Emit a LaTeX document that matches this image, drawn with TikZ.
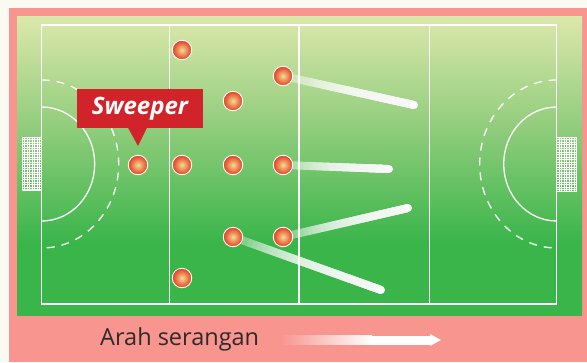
\documentclass[tikz,border=0pt]{standalone}
\usepackage{fontspec}
\setmainfont{Open Sans}
\usetikzlibrary{calc}
\definecolor{offwhite}{HTML}{FAFAF3}
\definecolor{pinkbg}{HTML}{F7958E}
\definecolor{fieldtop}{HTML}{DCE8AB}
\definecolor{fieldmid}{HTML}{8FCC7B}
\definecolor{fieldgreen}{HTML}{3AB54A}
\definecolor{redbox}{HTML}{D2232A}
\definecolor{pout}{HTML}{E6402A}
\definecolor{pmid}{HTML}{EC8F55}
\definecolor{pin}{HTML}{F0DDA2}
\definecolor{darktext}{HTML}{2E2A2B}
\pgfdeclareverticalshading{fieldshade}{100bp}{color(0bp)=(fieldgreen); color(37bp)=(fieldgreen); color(56bp)=(fieldmid); color(75bp)=(fieldtop); color(100bp)=(fieldtop)}
\pgfdeclareradialshading{ballshade}{\pgfpoint{0bp}{0bp}}{color(0bp)=(pin); color(12bp)=(pmid); color(24bp)=(pout); color(100bp)=(pout)}
\pgfdeclarelayer{fieldlayer}
\pgfdeclarelayer{traillayer}
\pgfsetlayers{fieldlayer,traillayer,main}
\newcommand\mytrail[2]{%
  \draw[white, line width=8, draw opacity=0.2] (#1) -- (#2);
  \foreach \k [evaluate=\k as \ta using \k/30] in {1,...,29}{%
    \draw[white, line width=8, draw opacity=0.115] ($(#1)!\ta!(#2)$) -- (#2);}%
  \fill[white] (#2) circle (4);}
\begin{document}
\begin{tikzpicture}[x=1pt,y=-1pt,
  fieldline/.style={white, line width=1.3},
  dashline/.style={white, line width=1.3, dash pattern=on 8 off 7},
  player/.style={circle, draw=white, line width=0.9, minimum size=19.5, inner sep=0, shading=ballshade},
  netline/.style={white, line width=0.35}]
\useasboundingbox (0,0) rectangle (587,362);
\begin{pgfonlayer}{fieldlayer}
\fill[offwhite] (0,0) rectangle (587,362);
\fill[pinkbg] (9,8) rectangle (587,362);
\shade[shading=fieldshade] (17,16) rectangle (582,315);
% field lines
\draw[fieldline] (41.7,25) rectangle (556.7,304);
\draw[fieldline] (169.5,25) -- (169.5,304);
\draw[fieldline] (299,25) -- (299,304);
\draw[fieldline] (429.5,25) -- (429.5,304);
% circles
\draw[fieldline] (41.7,107) arc[start angle=-90, end angle=90, x radius=53, y radius=57];
\draw[fieldline] (556.7,107) arc[start angle=-90, end angle=-270, x radius=53, y radius=57];
\draw[dashline] (41.7,80) arc[start angle=-90, end angle=90, x radius=77, y radius=84];
\draw[dashline] (556.7,80) arc[start angle=-90, end angle=-270, x radius=77, y radius=84];
% nets
\foreach \xx in {22,24.5,...,41}{\draw[netline] (\xx,137) -- (\xx,190);}
\foreach \yy in {137,139.5,...,190}{\draw[netline] (22,\yy) -- (41.7,\yy);}
\draw[white, line width=0.8] (41.7,137) -- (22,137) -- (22,190) -- (41.7,190);
\foreach \xx in {559,561.5,...,576}{\draw[netline] (\xx,137) -- (\xx,191);}
\foreach \yy in {137,139.5,...,191}{\draw[netline] (556.7,\yy) -- (576,\yy);}
\draw[white, line width=0.8] (556.7,137) -- (576,137) -- (576,191) -- (556.7,191);
\end{pgfonlayer}
% players
\node[player] (p1) at (182,50) {};
\node[player] (p2) at (283,76) {};
\node[player] (p3) at (233,101) {};
\node[player] (p4) at (138,165) {};
\node[player] (p5) at (182,165) {};
\node[player] (p6) at (233,165) {};
\node[player] (p7) at (283,165) {};
\node[player] (p8) at (233,237) {};
\node[player] (p9) at (283,237) {};
\node[player] (p10) at (182,278) {};
% trails
\coordinate (e2) at (414,105);
\coordinate (e7) at (389,169);
\coordinate (e9) at (408,208);
\coordinate (e8) at (381,290);
\begin{pgfonlayer}{traillayer}
\mytrail{p2.center}{e2}
\mytrail{p7.center}{e7}
\mytrail{p9.center}{e9}
\mytrail{p8.center}{e8}
\end{pgfonlayer}
% sweeper label
\node[fill=redbox, text=white, font=\bfseries\itshape\fontsize{24}{24}\selectfont, minimum width=126, minimum height=39, inner sep=0] (sw) at (140,108.5) {Sweeper};
\fill[redbox] ($(sw.south)+(-12,-0.5)$) -- ($(sw.south)+(7,-0.5)$) -- (p4.north |- 0,146) -- cycle;
% direction
\node[anchor=base west, text=darktext, font=\fontsize{23.5}{23.5}\selectfont, inner sep=0] (dir) at (100,345) {Arah serangan};
\coordinate (a1) at (280,340);
\coordinate (a2) at (441,340);
\shade[left color=pinkbg, right color=white] (280,335.5) rectangle (372,344.5);
\fill[white] (371.5,335.5) rectangle (430,344.5);
\fill[white] (430,334) -- (a2) -- (430,346) -- cycle;
\end{tikzpicture}
\end{document}
